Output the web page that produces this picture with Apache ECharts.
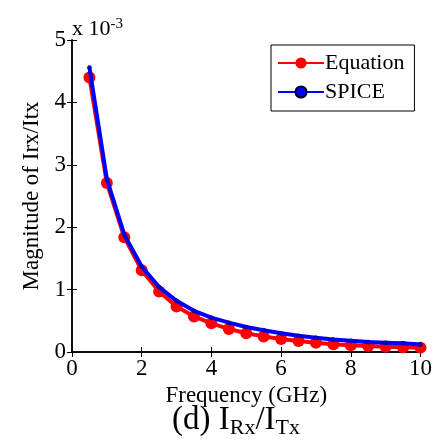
<!DOCTYPE html>
<html><head><meta charset="utf-8">
<script src="https://cdn.jsdelivr.net/npm/echarts@6/dist/echarts.min.js"></script>
<style>html,body{margin:0;padding:0;background:#fff}#c{width:435px;height:444px}</style>
</head><body><div id="c"></div>
<script>
const freq = [0.5,1,1.5,2,2.5,3,3.5,4,4.5,5,5.5,6,6.5,7,7.5,8,8.5,9,9.5,10];
const equation = [4.40,2.71,1.84,1.31,0.97,0.73,0.57,0.46,0.37,0.30,0.25,0.21,0.175,0.15,0.125,0.11,0.095,0.085,0.075,0.07];
const spice = [4.56,2.77,1.88,1.37,1.04,0.82,0.66,0.55,0.47,0.40,0.35,0.30,0.26,0.23,0.20,0.18,0.16,0.15,0.14,0.12];
const xTicks = [0,2,4,6,8,10];
const yTicks = [0,1,2,3,4,5];
const F = 'Liberation Serif';
const chart = echarts.init(document.getElementById('c'));
const axLine = {show:true,lineStyle:{color:'#000',width:1.5}};
const tick = {show:true,inside:true,length:5,lineStyle:{color:'#000',width:1}};
chart.setOption({
  animation:false,
  grid:{left:72,right:12,top:40,bottom:92},
  xAxis:[
    {type:'value',min:xTicks[0],max:xTicks[xTicks.length-1],interval:2,position:'bottom',
     axisLine:axLine,axisTick:tick,splitLine:{show:false},
     axisLabel:{color:'#000',fontFamily:F,fontSize:23,margin:5},
     name:'Frequency (GHz)',nameLocation:'middle',nameGap:32,
     nameTextStyle:{color:'#000',fontFamily:F,fontSize:23}},
    {type:'value',min:0,max:10,interval:2,position:'top',
     axisLine:axLine,axisTick:tick,splitLine:{show:false},axisLabel:{show:false}}
  ],
  yAxis:[
    {type:'value',min:yTicks[0],max:yTicks[yTicks.length-1],interval:1,position:'left',
     axisLine:axLine,axisTick:tick,splitLine:{show:false},
     axisLabel:{color:'#000',fontFamily:F,fontSize:23,margin:6},
     name:'Magnitude of Irx/Itx',nameLocation:'middle',nameGap:25,
     nameTextStyle:{color:'#000',fontFamily:F,fontSize:23}},
    {type:'value',min:0,max:5,interval:1,position:'right',
     axisLine:axLine,axisTick:tick,splitLine:{show:false},axisLabel:{show:false}}
  ],
  legend:{left:271,top:45,orient:'vertical',
    backgroundColor:'#fff',borderColor:'#000',borderWidth:1,borderRadius:0,
    padding:[7,10,8,6],itemGap:7,itemWidth:46,itemHeight:14,
    textStyle:{color:'#000',fontFamily:F,fontSize:22,padding:[0,0,0,-4]},
    data:['Equation','SPICE']},
  series:[
    {name:'Equation',type:'line',data:freq.map((f,i)=>[f,equation[i]]),
     color:'#ff0000',lineStyle:{width:4,color:'#ff0000'},
     symbol:'circle',symbolSize:12,itemStyle:{color:'#ff0000'},z:2},
    {name:'SPICE',type:'line',data:freq.map((f,i)=>[f,spice[i]]),
     color:'#0000ff',lineStyle:{width:4,color:'#0000ff'},
     symbol:'circle',symbolSize:4,itemStyle:{color:'#0000ff',borderColor:'#000022',borderWidth:0.5},z:3}
  ],
  graphic:[
    {type:'text',left:72,top:17,style:{text:'x 10{sup|-3}',rich:{sup:{fontSize:15,verticalAlign:'top',padding:[0,0,10,0],fontFamily:F,fill:'#000'}},font:'22px '+F,fill:'#000'}},
    {type:'text',left:172,top:404,style:{
      text:'(d) I{s|Rx}/I{s|Tx}',
      rich:{s:{fontSize:22,fontFamily:F,fill:'#000',padding:[16,0,0,0]}},
      font:'33px '+F,fill:'#000'}}
  ]
});
</script></body></html>
